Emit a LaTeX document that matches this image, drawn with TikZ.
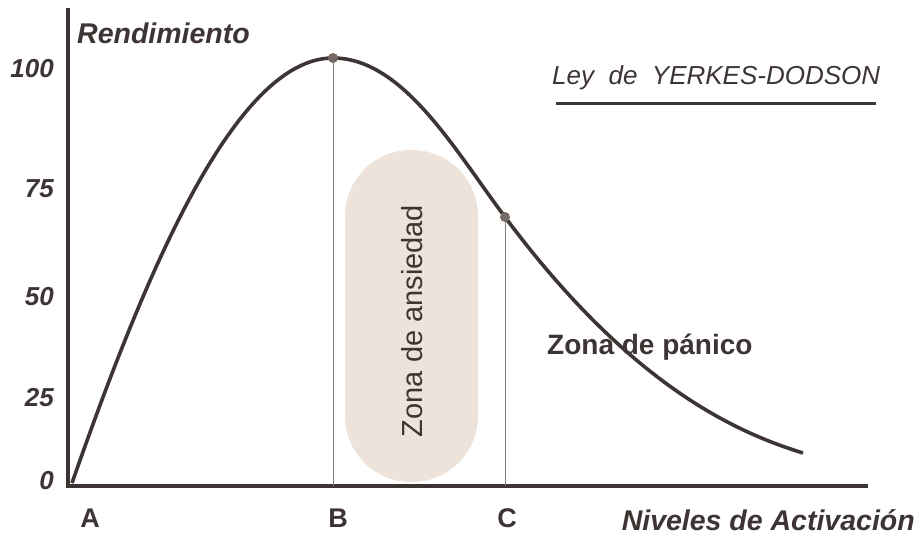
\documentclass[tikz,border=0pt]{standalone}
\usepackage{fontspec}
\setmainfont{Liberation Sans}
\usetikzlibrary{positioning}
\definecolor{ink}{HTML}{3D3533}
\definecolor{dotgray}{HTML}{756A63}
\definecolor{sand}{HTML}{EDE3DA}
\tikzset{
	lab/.style = {text = ink, font = \fontsize{26}{30}\selectfont\bfseries\itshape, inner sep = 0pt},
	tick/.style = {lab, anchor = east},
	letter/.style = {text = ink, font = \fontsize{27}{30}\selectfont\bfseries, inner sep = 0pt},
	guide/.style = {gray, line width = 0.8pt}
}

\begin{document}
\begin{tikzpicture}[x = 1pt, y = -1pt]
	\useasboundingbox (0,0) rectangle (920,535);
	% zona de ansiedad
	\fill[sand, rounded corners = 66pt] (345,150) rectangle (478,482);
	\node[text = ink, rotate = 90, font = \fontsize{29}{30}\selectfont, inner sep = 0pt] (ansiedad) at (412,321) {Zona de ansiedad};
	% ejes
	\draw[ink, line width = 4pt] (68,8) -- (68,486) -- (868,486);
	\node[lab, anchor = west, font = \fontsize{28.5}{30}\selectfont\bfseries\itshape] (rend) at (77,33) {Rendimiento};
	\node[tick] (t100) at (54,69) {100}; \node[tick] (t75) at (54,189) {75};
	\node[tick] (t50) at (54,297) {50}; \node[tick] (t25) at (54,398) {25};
	\node[tick] (t0) at (54,481) {0};
	\node[letter] (A) at (90,518) {A}; \node[letter] (B) at (338,518) {B};
	\node[letter] (C) at (507,518) {C};
	\node[lab, anchor = east, font = \fontsize{28.5}{30}\selectfont\bfseries\itshape] (niveles) at (915,520) {Niveles de Activaci\'on};
	% curva
	\coordinate (inicio) at (72,483); \coordinate (fin) at (803,453);
	\coordinate (pico) at (333,58); \coordinate (punto) at (505,217);
	\coordinate (baseB) at (333,486); \coordinate (baseC) at (505,486);
	\draw[guide] (pico) -- (baseB); \draw[guide] (punto) -- (baseC);
	\draw[ink, line width = 3.6pt] (inicio) .. controls (142,283) and (233,58) .. (pico)
		.. controls (403,58) and (455,150.5) .. (punto)
		.. controls (630,385) and (735,432) .. (fin);
	\fill[dotgray] (pico) circle (5pt); \fill[dotgray] (punto) circle (5pt);
	% textos
	\node[text = ink, font = \fontsize{28}{30}\selectfont\bfseries, inner sep = 0pt, anchor = west] (panico) at (547,347) {Zona de p\'anico};
	\node[text = ink, font = \fontsize{26}{30}\selectfont\itshape, inner sep = 0pt, anchor = west] (ley) at (552,78) {Ley\ \ de\ \ YERKES-DODSON};
	\coordinate (leyA) at (556,103); \coordinate (leyB) at (876,103);
	\draw[ink, line width = 3pt] (leyA) -- (leyB);
\end{tikzpicture}
\end{document}
